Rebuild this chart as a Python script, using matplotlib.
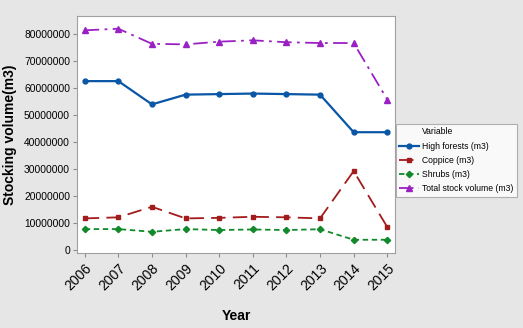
import matplotlib
matplotlib.use("Agg")
import matplotlib.pyplot as plt
from matplotlib.lines import Line2D

plt.rcParams['font.family'] = ['Liberation Sans', 'DejaVu Sans']

years = [2006, 2007, 2008, 2009, 2010, 2011, 2012, 2013, 2014, 2015]
high_forests = [62.4e6, 62.4e6, 53.8e6, 57.4e6, 57.6e6, 57.8e6, 57.6e6, 57.4e6, 43.5e6, 43.5e6]
coppice = [11.6e6, 12.0e6, 15.9e6, 11.6e6, 11.8e6, 12.2e6, 12.0e6, 11.6e6, 29.1e6, 8.4e6]
shrubs = [7.65e6, 7.65e6, 6.65e6, 7.65e6, 7.3e6, 7.5e6, 7.3e6, 7.6e6, 3.7e6, 3.7e6]
total = [81.2e6, 81.8e6, 76.2e6, 76.0e6, 77.0e6, 77.5e6, 76.8e6, 76.5e6, 76.5e6, 55.6e6]
yticks = [0, 10000000, 20000000, 30000000, 40000000, 50000000, 60000000, 70000000, 80000000]

bg = '#e6e6e6'
fig = plt.figure(figsize=(5.23, 3.28), dpi=100, facecolor=bg)
ax = fig.add_axes([77 / 523, 1 - 253 / 328, (395 - 77) / 523, (253 - 16) / 328])
ax.set_facecolor('white')

ax.plot(years, high_forests, color='#0a56a6', lw=1.6, ls='-', marker='o', ms=3.5,
        label='High forests (m3)')
ax.plot(years, coppice, color='#a31c1c', lw=1.3, ls=(0, (8, 4)), marker='s', ms=3.5,
        label='Coppice (m3)')
ax.plot(years, shrubs, color='#128a2c', lw=1.3, ls=(0, (3, 2)), marker='D', ms=3.2,
        label='Shrubs (m3)')
ax.plot(years, total, color='#9a20c4', lw=1.3, ls=(0, (8, 3, 1.5, 3)), marker='^', ms=4.5,
        label='Total stock volume (m3)')

ax.set_xlim(2005.77, 2015.23)
ax.set_ylim(-1.2e6, 86.5e6)
ax.set_xticks(years)
ax.set_xticklabels([str(y) for y in years], rotation=45, ha='right', rotation_mode='anchor',
                   fontsize=10)
ax.set_yticks(yticks)
ax.set_yticklabels([str(v) for v in yticks], fontsize=7.4)
ax.tick_params(axis='both', direction='out', length=3, color='#8c8c8c', pad=2)
ax.tick_params(axis='x', pad=3)
for s in ax.spines.values():
    s.set_color('#a0a0a0')

ax.set_xlabel('Year', fontsize=10, fontweight='bold', labelpad=11)
ax.set_ylabel('Stocking volume(m3)', fontsize=10, fontweight='bold', labelpad=5)

# legend title placed as a blank first row so it lines up with the labels
handles, labels = ax.get_legend_handles_labels()
blank = Line2D([], [], lw=0, marker=None)
leg = fig.legend([blank] + handles, ['Variable'] + labels, loc='upper left',
                 bbox_to_anchor=(396 / 523, 1 - 124 / 328),
                 fontsize=6.2, frameon=True, fancybox=False,
                 edgecolor='#a0a0a0', handlelength=2.3, borderaxespad=0, labelspacing=0.6,
                 borderpad=0.4, handletextpad=0.35)
leg.get_frame().set_linewidth(0.8)

fig.savefig('out.png', dpi=100, facecolor=bg)
